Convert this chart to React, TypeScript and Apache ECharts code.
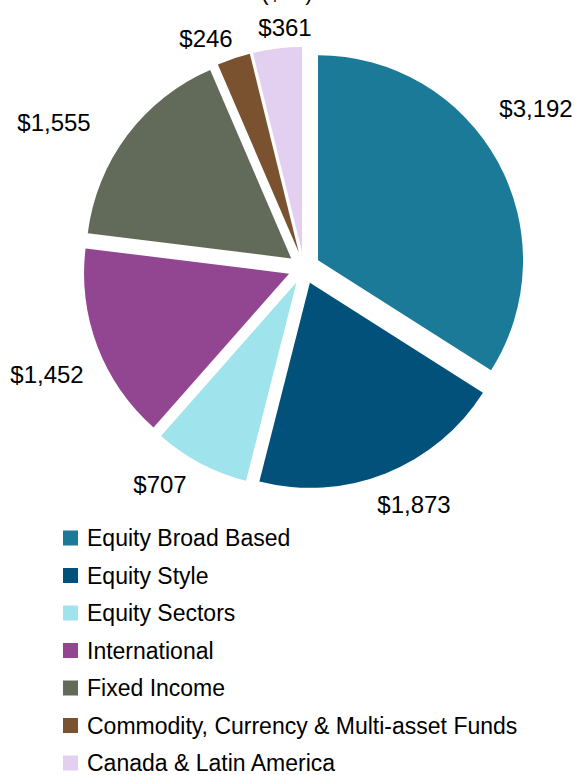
import React, { useEffect, useRef } from "react";
import * as echarts from "echarts";

const categories = [
  "Equity Broad Based",
  "Equity Style",
  "Equity Sectors",
  "International",
  "Fixed Income",
  "Commodity, Currency & Multi-asset Funds",
  "Canada & Latin America",
];
const values = [3192, 1873, 707, 1452, 1555, 246, 361];
const colors = ["#1B7A98", "#02517A", "#9FE4EC", "#924691", "#626A5A", "#7B5230", "#E3CFF0"];
const unitTitle = "($bn)";

// layout: where each value label sits (label centres, px)
const labelAnchors: [number, number][] = [
  [536, 108],
  [414, 504],
  [160, 484],
  [47, 374],
  [54, 122],
  [206, 38],
  [285, 27],
];

const fmt = (v: number) => "$" + v.toLocaleString("en-US");

export default function App() {
  const ref = useRef<HTMLDivElement>(null);
  useEffect(() => {
    if (!ref.current) return;
    const chart = echarts.init(ref.current, null, { renderer: "svg" });
    const pieBase = {
      type: "pie",
      center: [304, 268],
      radius: 205,
      startAngle: 90,
      clockwise: true,
      avoidLabelOverlap: false,
      emphasis: { disabled: true },
    };
    chart.setOption({
      animation: false,
      color: colors,
      graphic: [
        {
          type: "text",
          x: 287,
          y: -8,
          style: {
            text: unitTitle,
            align: "center",
            verticalAlign: "middle",
            font: "22px 'Liberation Sans', Arial, sans-serif",
            fill: "#000",
          },
        },
      ],
      legend: {
        orient: "vertical",
        left: 58,
        top: 520,
        height: 300,
        icon: "rect",
        itemWidth: 15,
        itemHeight: 15,
        itemGap: 11.5,
        selectedMode: false,
        data: categories.map((name, i) => ({ name, itemStyle: { color: colors[i], opacity: 1 } })),
        textStyle: {
          fontFamily: "Liberation Sans, Arial, sans-serif",
          fontSize: 23,
          color: "#000",
          lineHeight: 26,
          padding: [0, 0, 0, 4],
        },
      },
      series: [
        {
          ...pieBase,
          name: "slices",
          selectedMode: "multiple",
          selectedOffset: 16,
          select: { itemStyle: { borderWidth: 0 } },
          label: { show: false },
          labelLine: { show: false },
          itemStyle: { borderWidth: 0 },
          data: categories.map((name, i) => ({ name, value: values[i], selected: true })),
        },
        {
          ...pieBase,
          name: "labels",
          silent: true,
          selectedMode: false,
          itemStyle: { color: "rgba(0,0,0,0)", borderWidth: 0 },
          label: {
            show: true,
            position: "outside",
            formatter: (p: any) => fmt(p.value),
            fontFamily: "Liberation Sans, Arial, sans-serif",
            fontSize: 24,
            color: "#000",
            opacity: 1,
          },
          labelLine: { show: false },
          labelLayout: (p: any) => {
            const a = labelAnchors[p.dataIndex];
            return { x: a[0], y: a[1], align: "center", verticalAlign: "middle" };
          },
          data: categories.map((name, i) => ({ name, value: values[i] })),
        },
      ],
    });
    return () => chart.dispose();
  }, []);
  return (
    <div
      ref={ref}
      style={{ position: "absolute", left: 0, top: 0, width: 575, height: 775 }}
    />
  );
}
